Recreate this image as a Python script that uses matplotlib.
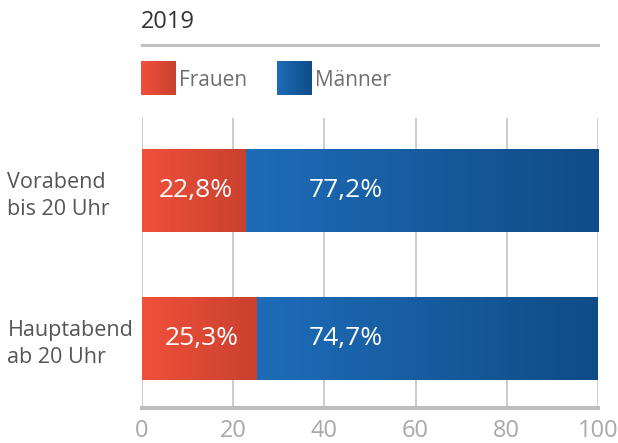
import numpy as np
import matplotlib.pyplot as plt
from matplotlib.colors import LinearSegmentedColormap

plt.rcParams['font.family'] = ['Open Sans', 'DejaVu Sans']

# data
categories = ['Vorabend\nbis 20 Uhr', 'Hauptabend\nab 20 Uhr']
frauen = [22.8, 25.3]
maenner = [77.2, 74.7]
year = '2019'
ticks = [0, 20, 40, 60, 80, 100]

red_cmap = LinearSegmentedColormap.from_list('red', ['#f0503a', '#c9412f'])
blue_cmap = LinearSegmentedColormap.from_list('blue', ['#1e6cb8', '#0f4c87'])
grad = np.linspace(0, 1, 256).reshape(1, -1)

fig = plt.figure(figsize=(6.18, 4.43), dpi=100)
ax = fig.add_axes([142 / 618, 1 - 408 / 443, 456 / 618, 290 / 443])

bar_h = 0.56
y = np.arange(len(categories))
for i in y:
    f, m = frauen[i], maenner[i]
    ax.imshow(grad, cmap=red_cmap, aspect='auto', zorder=2,
              extent=(0, f, i + bar_h / 2, i - bar_h / 2))
    ax.imshow(grad, cmap=blue_cmap, aspect='auto', zorder=2,
              extent=(f, f + m, i + bar_h / 2, i - bar_h / 2))
    ax.text(f / 2 + 0.5, i, f'{f:.1f}%'.replace('.', ','), color='white',
            fontsize=19, ha='center', va='center', zorder=3)
    ax.text(44.8, i, f'{m:.1f}%'.replace('.', ','), color='white',
            fontsize=19, ha='center', va='center', zorder=3)
    ax.text(-0.295, i + 0.035, categories[i], transform=ax.get_yaxis_transform(),
            color='#555555', fontsize=15.5, ha='left', va='center',
            linespacing=1.38)

ax.set_xlim(0, 100)
ax.set_ylim(1.47, -0.49)
ax.set_xticks(ticks)
ax.set_xticklabels([str(t) for t in ticks], color='#a8a8a8', fontsize=17)
ax.set_yticks([])
ax.tick_params(axis='x', length=0, pad=8)
for x in ticks:
    ax.axvline(x, color='#c8c8c8', lw=1.3, zorder=1)
for s in ['top', 'left', 'right']:
    ax.spines[s].set_visible(False)
ax.spines['bottom'].set_color('#bdbdbd')
ax.spines['bottom'].set_linewidth(3)
ax.spines['bottom'].set_zorder(4)

# title and rule
fig.text(141 / 618, 1 - 22 / 443, year, fontsize=17, color='#333333',
         ha='left', va='center')
fig.add_artist(plt.Line2D([142 / 618, 598 / 618], [1 - 45 / 443, 1 - 45 / 443],
                          color='#bfc0c4', lw=2.2))

# legend
for x0, cmap, label in [(141, red_cmap, 'Frauen'), (277, blue_cmap, 'Männer')]:
    lax = fig.add_axes([x0 / 618, 1 - 95 / 443, 35 / 618, 34 / 443])
    lax.imshow(grad, cmap=cmap, aspect='auto')
    lax.axis('off')
    fig.text((x0 + 38) / 618, 1 - 80 / 443, label, fontsize=15,
             color='#6e6e6e', ha='left', va='center')

fig.savefig('out.png', dpi=100)
